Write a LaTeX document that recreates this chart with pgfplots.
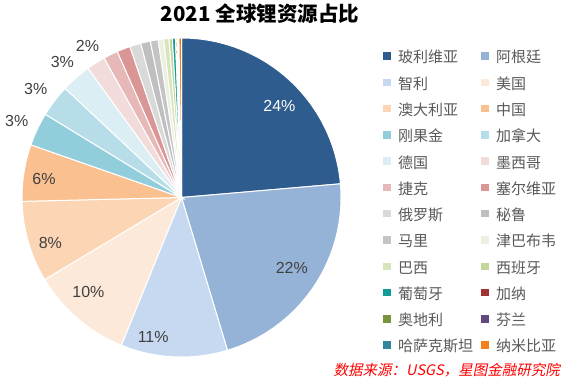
\documentclass[border=0pt]{standalone}
\usepackage{pgfplots}
\pgfplotsset{compat=1.18}
\usepackage{fontspec}
\setmainfont{Liberation Sans}
\newfontfamily\cjk{Noto Sans CJK SC}
\newfontfamily\cjkit{Noto Sans CJK SC}[FakeSlant=0.2]

\definecolor{cBol}{HTML}{2E5C8E}
\definecolor{cArg}{HTML}{95B3D7}
\definecolor{cChl}{HTML}{C6D9F1}
\definecolor{cUSA}{HTML}{FDE9D9}
\definecolor{cAus}{HTML}{FCD5B4}
\definecolor{cChn}{HTML}{FAC090}
\definecolor{cCon}{HTML}{92CDDC}
\definecolor{cCan}{HTML}{B7DEE8}
\definecolor{cGer}{HTML}{DAEEF3}
\definecolor{cMex}{HTML}{F2DCDB}
\definecolor{cCze}{HTML}{E6B9B8}
\definecolor{cSer}{HTML}{D99694}
\definecolor{cRus}{HTML}{D9D9D9}
\definecolor{cPer}{HTML}{BFBFBF}
\definecolor{cMal}{HTML}{C4C4C4}
\definecolor{cZim}{HTML}{EBF1DE}
\definecolor{cBra}{HTML}{D7E4BD}
\definecolor{cSpa}{HTML}{C3D69B}
\definecolor{cPor}{HTML}{109D96}
\definecolor{cGha}{HTML}{A23234}
\definecolor{cAut}{HTML}{77933C}
\definecolor{cFin}{HTML}{604A7B}
\definecolor{cKaz}{HTML}{31859C}
\definecolor{cNam}{HTML}{F57F17}
\definecolor{labelgray}{HTML}{404040}
\definecolor{legendgray}{HTML}{595959}

% value (Mt), colour, name, label style (0 none, 1 inside white, 2 inside gray, 3 outside),
% label angle offset (deg), label radius (fraction of pie radius)
\newcommand\piedata{%
\slice{21}{cBol}{玻利维亚}{1}{-4.4}{0.84}%
\slice{19.3}{cArg}{阿根廷}{2}{1.7}{0.82}%
\slice{9.6}{cChl}{智利}{2}{-8.8}{0.89}%
\slice{9.1}{cUSA}{美国}{2}{-4.1}{0.83}%
\slice{7.3}{cAus}{澳大利亚}{2}{2.9}{0.87}%
\slice{5.1}{cChn}{中国}{2}{1.2}{0.87}%
\slice{3.0}{cCon}{刚果金}{3}{0.3}{1.14}%
\slice{2.9}{cCan}{加拿大}{3}{0.6}{1.14}%
\slice{2.7}{cGer}{德国}{3}{0}{1.13}%
\slice{1.7}{cMex}{墨西哥}{3}{-0.7}{1.12}%
\slice{1.3}{cCze}{捷克}{0}{0}{0}%
\slice{1.2}{cSer}{塞尔维亚}{0}{0}{0}%
\slice{1.0}{cRus}{俄罗斯}{0}{0}{0}%
\slice{0.88}{cPer}{秘鲁}{0}{0}{0}%
\slice{0.7}{cMal}{马里}{0}{0}{0}%
\slice{0.5}{cZim}{津巴布韦}{0}{0}{0}%
\slice{0.47}{cBra}{巴西}{0}{0}{0}%
\slice{0.3}{cSpa}{西班牙}{0}{0}{0}%
\slice{0.27}{cPor}{葡萄牙}{0}{0}{0}%
\slice{0.13}{cGha}{加纳}{0}{0}{0}%
\slice{0.06}{cAut}{奥地利}{0}{0}{0}%
\slice{0.07}{cFin}{芬兰}{0}{0}{0}%
\slice{0.05}{cKaz}{哈萨克斯坦}{0}{0}{0}%
\slice{0.23}{cNam}{纳米比亚}{0}{0}{0}%
}

\tikzset{pielabel/.style={font=\fontsize{16}{19}\selectfont}}

\begin{document}
\begin{tikzpicture}
\useasboundingbox (0,0) rectangle (565pt,382pt);
\gdef\total{0}
\def\slice#1#2#3#4#5#6{\pgfmathparse{\total+#1}\xdef\total{\pgfmathresult}}
\piedata
\gdef\cum{0}
\begin{axis}[
  at={(22pt,25pt)}, anchor=south west,
  scale only axis, width=319pt, height=319pt,
  xmin=-1, xmax=1, ymin=-1, ymax=1,
  hide axis, clip=false,
  legend columns=2,
  legend cell align=left,
  legend image code/.code={\fill[#1, draw=none] (0pt,-0.75pt) rectangle (7.5pt,6.75pt);},
  legend style={draw=none, fill=none, inner sep=0pt, outer sep=0pt,
    at={(1.1317,0.975)}, anchor=north west,
    font=\cjk\fontsize{15}{18}\selectfont, text=legendgray,
    row sep=0pt, column sep=0pt,
    nodes={inner sep=0pt, text height=17pt, text depth=9.27pt, text width=83pt, align=left},
    /tikz/every odd column/.append style={column sep=7.5pt},
    /tikz/every even column/.append style={column sep=0pt}},
]
\def\slice#1#2#3#4#5#6{%
  \pgfmathsetmacro\sA{90-360*(\cum/\total)}%
  \pgfmathsetmacro\cumB{\cum+#1}%
  \xdef\cum{\cumB}%
  \pgfmathsetmacro\sB{90-360*(\cum/\total)}%
  \edef\doit{\noexpand\addplot[fill=#2, draw=white, line width=1pt, domain=\sB:\sA, samples=50, variable=\noexpand\t] ({cos(\noexpand\t)},{sin(\noexpand\t)}) -- (axis cs:0,0) -- cycle;}%
  \doit
  \addlegendentry{#3}%
  \ifnum#4>0
    \ifcase#4\or\def\lc{white}\or\def\lc{labelgray}\or\def\lc{labelgray}\fi
    \pgfmathsetmacro\mid{(\sA+\sB)/2+#5}%
    \pgfmathsetmacro\lx{#6*cos(\mid)}%
    \pgfmathsetmacro\ly{#6*sin(\mid)}%
    \pgfmathtruncatemacro\pct{round(100*(#1/\total))}%
    \edef\dolabel{\noexpand\node[pielabel, text=\lc] at (axis cs:\lx,\ly) {\pct\noexpand\%};}%
    \dolabel
  \fi
}
\piedata
\end{axis}
\node[font=\cjk\bfseries\fontsize{20.5}{24}\selectfont] at (260pt,368pt) {2021 全球锂资源占比};
\node[anchor=east, text=red, font=\cjkit\fontsize{14.5}{17}\selectfont, inner sep=0pt] at (560pt,12pt) {数据来源：USGS，星图金融研究院};
\end{tikzpicture}
\end{document}
